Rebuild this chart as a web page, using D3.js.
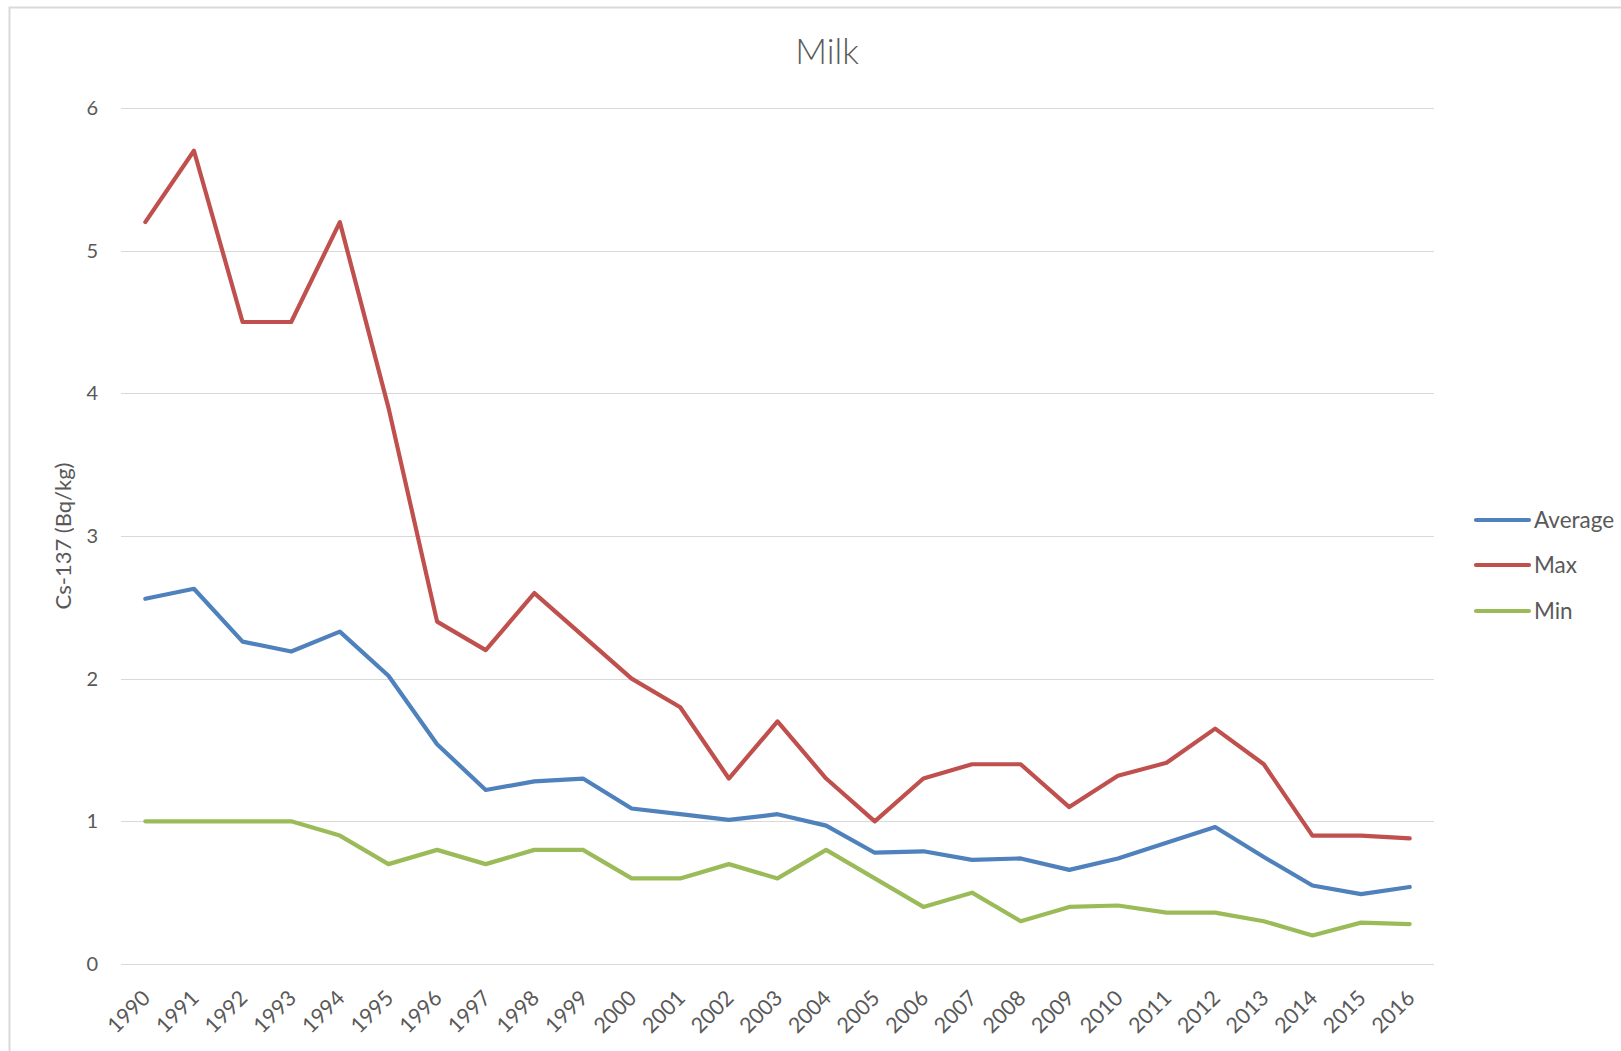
<!DOCTYPE html>
<html>
<head>
<meta charset="utf-8">
<script src="https://cdn.jsdelivr.net/npm/d3@7"></script>
<style>
  html, body { margin: 0; padding: 0; background: #fff; }
  svg { display: block; }
  text { font-family: Lato, "Open Sans", "Liberation Sans", sans-serif; }
</style>
</head>
<body>
<script>
const years = ["1990","1991","1992","1993","1994","1995","1996","1997","1998","1999","2000","2001","2002","2003","2004","2005","2006","2007","2008","2009","2010","2011","2012","2013","2014","2015","2016"];
const average = [2.56,2.63,2.26,2.19,2.33,2.02,1.54,1.22,1.28,1.30,1.09,1.05,1.01,1.05,0.97,0.78,0.79,0.73,0.74,0.66,0.74,0.85,0.96,0.75,0.55,0.49,0.54];
const maxVals = [5.2,5.7,4.5,4.5,5.2,3.9,2.4,2.2,2.6,2.3,2.0,1.8,1.3,1.7,1.3,1.0,1.3,1.4,1.4,1.1,1.32,1.41,1.65,1.4,0.9,0.9,0.88];
const minVals = [1.0,1.0,1.0,1.0,0.9,0.7,0.8,0.7,0.8,0.8,0.6,0.6,0.7,0.6,0.8,0.6,0.4,0.5,0.3,0.4,0.41,0.36,0.36,0.3,0.2,0.29,0.28];
const yTicks = [0,1,2,3,4,5,6];
const seriesNames = ["Average","Max","Min"];
const seriesColors = ["#4F81BD","#C0504D","#9BBB59"];
const title = "Milk";
const yTitle = "Cs-137 (Bq/kg)";

const W = 1621, H = 1051;
const plot = {left: 121, right: 1434, top: 108, bottom: 964};

const svg = d3.select("body").append("svg").attr("width", W).attr("height", H);
svg.append("rect").attr("width", W).attr("height", H).attr("fill", "#fff");
svg.append("rect").attr("x", 9.5).attr("y", 7.5).attr("width", W + 20).attr("height", H + 20)
  .attr("fill", "none").attr("stroke", "#D9D9D9").attr("stroke-width", 2);

const x = d3.scaleBand().domain(years).range([plot.left, plot.right]);
const y = d3.scaleLinear().domain([0, 6]).range([plot.bottom, plot.top]);

// gridlines
svg.append("g").selectAll("line").data(yTicks).join("line")
  .attr("x1", plot.left).attr("x2", plot.right)
  .attr("y1", d => Math.round(y(d)) + 0.5).attr("y2", d => Math.round(y(d)) + 0.5)
  .attr("stroke", "#D9D9D9").attr("stroke-width", 1);

// y axis labels
const yAxis = d3.axisLeft(y).tickValues(yTicks).tickSize(0).tickPadding(0).tickFormat(d3.format("d"));
const gy = svg.append("g").attr("transform", `translate(${plot.left - 23},0)`).call(yAxis);
gy.select(".domain").remove();
gy.selectAll("text").attr("fill", "#595959").style("font-size", "20px")
  .style("font-family", "Lato, 'Open Sans', sans-serif");

// x axis labels
const xAxis = d3.axisBottom(x).tickSize(0).tickPadding(0);
const gx = svg.append("g").attr("transform", `translate(0,${plot.bottom})`).call(xAxis);
gx.select(".domain").remove();
gx.selectAll("text")
  .attr("fill", "#595959").style("font-size", "21.5px")
  .style("font-family", "Lato, 'Open Sans', sans-serif")
  .attr("text-anchor", "end")
  .attr("dy", "0.35em").attr("y", 0)
  .attr("transform", "translate(1,30) rotate(-45)");

// lines
const data = [average, maxVals, minVals];
const line = d3.line().x((d, i) => x(years[i]) + x.bandwidth() / 2).y(d => y(d));
svg.append("g").selectAll("path").data(data).join("path")
  .attr("d", d => line(d))
  .attr("fill", "none")
  .attr("stroke", (d, i) => seriesColors[i])
  .attr("stroke-width", 4.2)
  .attr("stroke-linejoin", "round")
  .attr("stroke-linecap", "round");

// title
svg.append("text").attr("x", 827).attr("y", 64).attr("text-anchor", "middle")
  .attr("fill", "#595959").style("font-size", "35px").style("font-weight", 300).text(title);

// y title
svg.append("text").attr("transform", "translate(71,536) rotate(-90)")
  .attr("text-anchor", "middle").attr("fill", "#595959").style("font-size", "22px").text(yTitle);

// legend
const leg = svg.append("g");
const legY = [520, 565, 611];
seriesNames.forEach((n, i) => {
  leg.append("line").attr("x1", 1476).attr("x2", 1529).attr("y1", legY[i]).attr("y2", legY[i])
    .attr("stroke", seriesColors[i]).attr("stroke-width", 4.2).attr("stroke-linecap", "round");
  leg.append("text").attr("x", 1534).attr("y", legY[i]).attr("dy", "0.35em")
    .attr("fill", "#595959").style("font-size", "22.5px").text(n);
});
</script>
</body>
</html>
